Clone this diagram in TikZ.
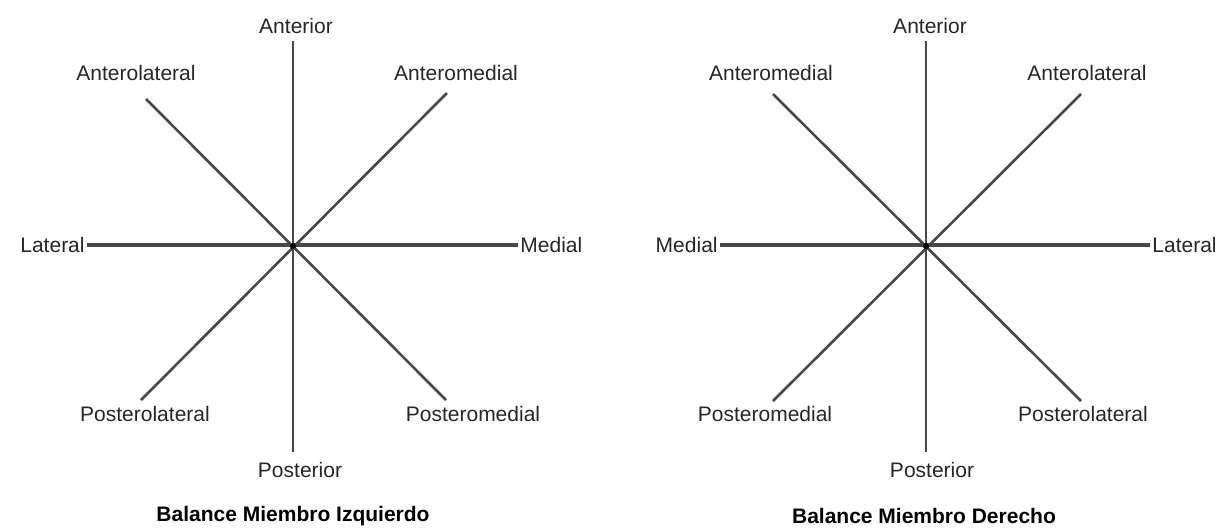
\documentclass[tikz,border=0pt]{standalone}
\usepackage{fontspec}
\setmainfont{Liberation Sans}
\usetikzlibrary{positioning}

\begin{document}
\begin{tikzpicture}[
  x=0.5pt, y=-0.5pt,
  font=\fontsize{10.5}{12}\selectfont,
  lbl/.style={inner sep=1pt, text=black!85},
  ttl/.style={inner sep=1pt, font=\fontsize{10.5}{12}\selectfont\bfseries},
  ray/.style={draw=black!72, line width=1.3pt},
  hub/.style={circle, fill=black, inner sep=0pt, minimum size=3pt}
]
\useasboundingbox (0,0) rectangle (1220,527);

% left limb
\node[hub] (lc) at (293,246) {};
\coordinate (lt)  at (293,41);
\coordinate (lb)  at (293,452);
\coordinate (lul) at (146,99);
\coordinate (lur) at (447,93);
\coordinate (lll) at (141,400);
\coordinate (llr) at (446,400);

\node[lbl] (lant)  at (296,26)  {Anterior};
\node[lbl] (lalat) at (136,73)  {Anterolateral};
\node[lbl] (lamed) at (456,73)  {Anteromedial};
\node[lbl, anchor=east] (llat) at (87,245)  {Lateral};
\node[lbl, anchor=west] (lmed) at (518,245) {Medial};
\node[lbl] (lplat) at (145,414) {Posterolateral};
\node[lbl] (lpmed) at (473,414) {Posteromedial};
\node[lbl] (lpost) at (300,470) {Posterior};
\node[ttl] (ltitle) at (293,516) {Balance Miembro Izquierdo};

\draw[ray] (lt) -- (lb);
\draw[ray, line width=1.7pt] (llat.east) -- (lmed.west);
\draw[ray] (lul) -- (llr);
\draw[ray] (lur) -- (lll);
\node[hub] at (lc) {};

% right limb
\node[hub] (rc) at (926,246) {};
\coordinate (rt)  at (926,41);
\coordinate (rb)  at (926,452);
\coordinate (rul) at (773,94);
\coordinate (rur) at (1081,94);
\coordinate (rll) at (773,401);
\coordinate (rlr) at (1081,401);

\node[lbl] (rant)  at (930,26)  {Anterior};
\node[lbl] (ramed) at (771,73)  {Anteromedial};
\node[lbl] (ralat) at (1087,73) {Anterolateral};
\node[lbl, anchor=east] (rmed) at (720,245)  {Medial};
\node[lbl, anchor=west] (rlat) at (1150,245) {Lateral};
\node[lbl] (rpmed) at (765,414)  {Posteromedial};
\node[lbl] (rplat) at (1083,414) {Posterolateral};
\node[lbl] (rpost) at (932,470)  {Posterior};
\node[ttl] (rtitle) at (924,516) {Balance Miembro Derecho};

\draw[ray] (rt) -- (rb);
\draw[ray, line width=1.7pt] (rmed.east) -- (rlat.west);
\draw[ray] (rul) -- (rlr);
\draw[ray] (rur) -- (rll);
\node[hub] at (rc) {};

\end{tikzpicture}
\end{document}
